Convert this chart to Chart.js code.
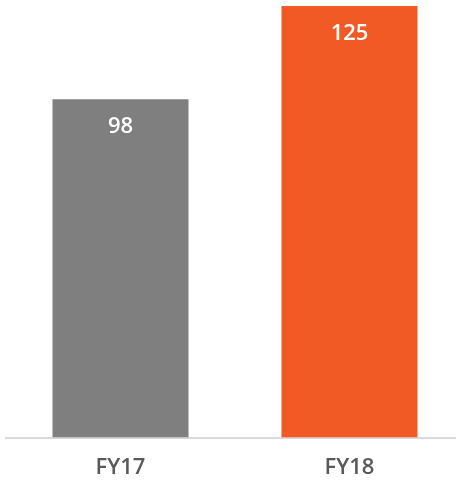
<!DOCTYPE html>
<html>
<head>
<meta charset="utf-8">
<script src="https://cdn.jsdelivr.net/npm/chart.js@4/dist/chart.umd.min.js"></script>
<style>
  html, body { margin: 0; padding: 0; background: #fff; overflow: hidden; }
  #wrap { position: relative; width: 464px; height: 481px; }
</style>
</head>
<body>
<div id="wrap"><canvas id="grafico"></canvas></div>
<script>
// Dados do gráfico
const categorias = ['FY17', 'FY18'];
const valores = [98, 125];
const cores = ['#7f7f7f', '#f15a24'];

// Escreve o valor dentro da barra, perto do topo
const rotulosValores = {
  id: 'rotulosValores',
  afterDatasetsDraw(chart) {
    const ctx = chart.ctx;
    const meta = chart.getDatasetMeta(0);
    ctx.save();
    ctx.fillStyle = '#ffffff';
    ctx.font = '600 22px "Open Sans", "Noto Sans", sans-serif';
    ctx.textAlign = 'center';
    ctx.textBaseline = 'middle';
    meta.data.forEach((barra, i) => {
      ctx.fillText(valores[i], barra.x, barra.y + 28);
    });
    ctx.restore();
  }
};

new Chart(document.getElementById('grafico'), {
  type: 'bar',
  data: {
    labels: categorias,
    datasets: [{
      data: valores,
      backgroundColor: cores,
      borderWidth: 0,
      barPercentage: 0.594,
      categoryPercentage: 1
    }]
  },
  options: {
    responsive: true,
    maintainAspectRatio: false,
    animation: false,
    plugins: {
      legend: { display: false },
      tooltip: { enabled: false }
    },
    layout: {
      padding: { top: 6, left: 6, right: 0, bottom: -17 }
    },
    scales: {
      x: {
        grid: { display: false, drawTicks: false },
        border: { display: true, color: '#d9d9d9', width: 2 },
        ticks: {
          color: '#595959',
          padding: 17,
          font: { family: '"Open Sans", "Noto Sans", sans-serif', size: 22, weight: '600' }
        }
      },
      y: {
        display: false,
        min: 0,
        max: 125
      }
    }
  },
  plugins: [rotulosValores]
});
</script>
</body>
</html>
